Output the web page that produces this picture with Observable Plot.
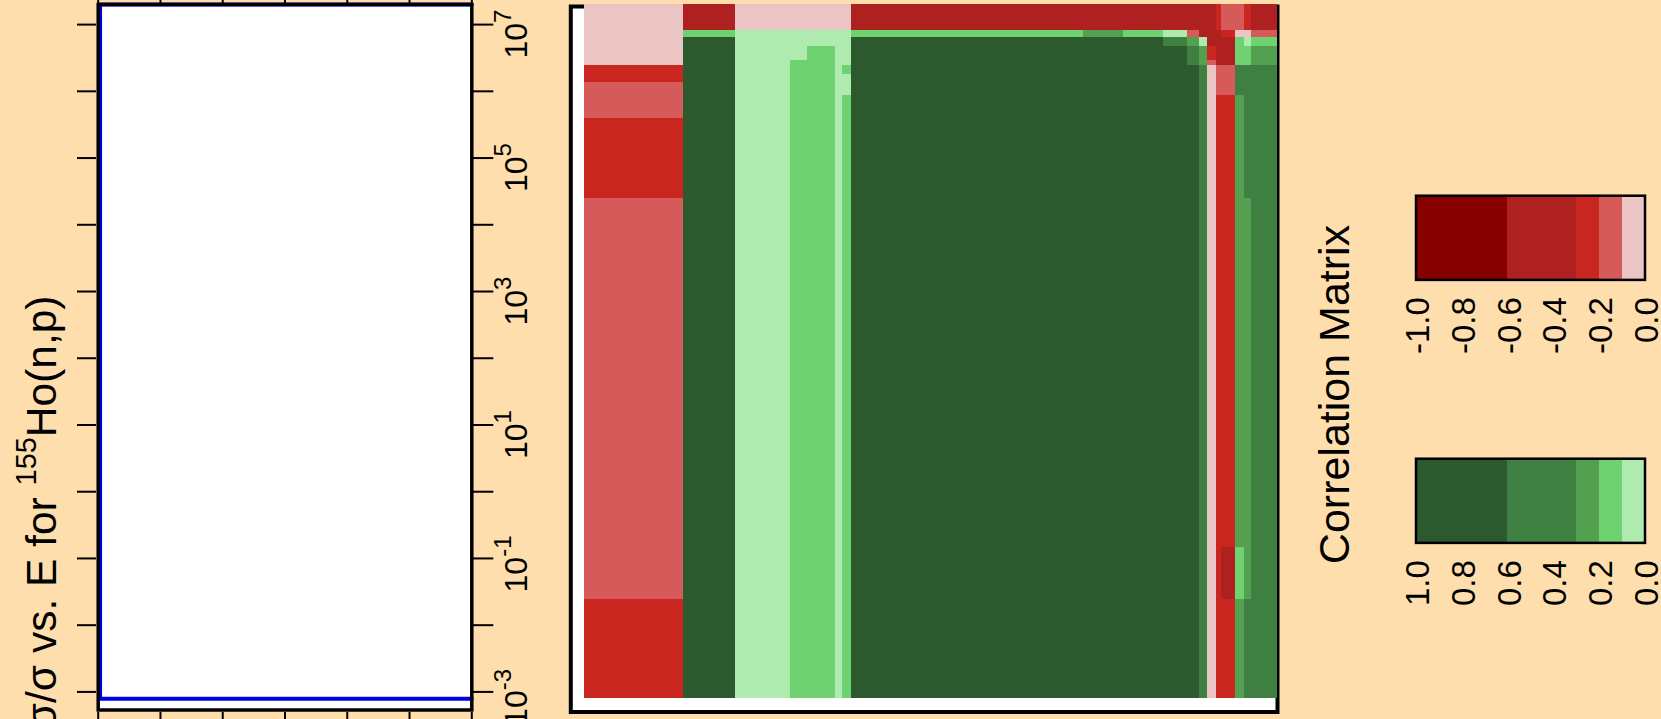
<!DOCTYPE html>
<html>
<head>
<meta charset="utf-8">
<script src="https://cdn.jsdelivr.net/npm/d3@7"></script>
<script src="https://cdn.jsdelivr.net/npm/@observablehq/plot@0.6"></script>
<style>
  html, body { margin: 0; padding: 0; background: #FFDEAD; overflow: hidden; }
  #wrap { position: relative; width: 1661px; height: 719px; overflow: hidden; background: #FFDEAD; }
  #wrap svg { position: absolute; overflow: visible; }
</style>
</head>
<body>
<div id="wrap"></div>
<script>
// ---------------- data ----------------
// energy group boundaries (eV), shared by both axes of the correlation matrix
const energyEdges = [7.9e-4, 0.0245, 0.148, 0.99, 1.78, 4.68, 5.96, 8.04, 2.45e4, 9.8e4,
                     3.9e5, 8.8e5, 1.36e6, 1.8e6, 2.43e6, 2.88e6, 4.68e6, 6.4e6, 8.1e6, 2.0e7];
const energyDomain = [5.0e-4, 2.0e7];

// correlation values, top row (highest energy group) first; columns low -> high energy
const corrRows = [
  [-0.05,-0.45,-0.05,-0.05,-0.05,-0.05,-0.05,-0.45,-0.45,-0.45,-0.45,-0.45,-0.45,-0.45,-0.25,-0.15,-0.15,-0.25,-0.45],
  [-0.05, 0.15, 0.05, 0.05, 0.05, 0.05, 0.05, 0.15, 0.25, 0.15, 0.05,-0.15,-0.45,-0.45,-0.45,-0.25,-0.05,-0.05,-0.15],
  [-0.05, 0.90, 0.05, 0.05, 0.05, 0.05, 0.05, 0.90, 0.90, 0.90, 0.45, 0.25, 0.05,-0.45,-0.45,-0.45, 0.15, 0.05, 0.15],
  [-0.05, 0.90, 0.05, 0.05, 0.15, 0.05, 0.05, 0.90, 0.90, 0.90, 0.90, 0.45, 0.25,-0.25,-0.45,-0.45, 0.15, 0.15, 0.25],
  [-0.05, 0.90, 0.05, 0.15, 0.15, 0.05, 0.05, 0.90, 0.90, 0.90, 0.90, 0.45, 0.25,-0.15,-0.45,-0.45, 0.15, 0.15, 0.25],
  [-0.25, 0.90, 0.05, 0.15, 0.15, 0.05, 0.15, 0.90, 0.90, 0.90, 0.90, 0.90, 0.45,-0.05,-0.15,-0.15, 0.45, 0.45, 0.45],
  [-0.25, 0.90, 0.05, 0.15, 0.15, 0.05, 0.05, 0.90, 0.90, 0.90, 0.90, 0.90, 0.45,-0.05,-0.15,-0.15, 0.45, 0.45, 0.45],
  [-0.15, 0.90, 0.05, 0.15, 0.15, 0.05, 0.05, 0.90, 0.90, 0.90, 0.90, 0.90, 0.45,-0.05,-0.15,-0.15, 0.45, 0.45, 0.45],
  [-0.15, 0.90, 0.05, 0.15, 0.15, 0.05, 0.15, 0.90, 0.90, 0.90, 0.90, 0.90, 0.45,-0.05,-0.25,-0.25, 0.25, 0.45, 0.45],
  [-0.25, 0.90, 0.05, 0.15, 0.15, 0.05, 0.15, 0.90, 0.90, 0.90, 0.90, 0.90, 0.45,-0.05,-0.25,-0.25, 0.25, 0.45, 0.45],
  [-0.25, 0.90, 0.05, 0.15, 0.15, 0.05, 0.15, 0.90, 0.90, 0.90, 0.90, 0.90, 0.45,-0.05,-0.25,-0.25, 0.25, 0.45, 0.45],
  [-0.15, 0.90, 0.05, 0.15, 0.15, 0.05, 0.15, 0.90, 0.90, 0.90, 0.90, 0.90, 0.45,-0.05,-0.25,-0.25, 0.25, 0.25, 0.45],
  [-0.15, 0.90, 0.05, 0.15, 0.15, 0.05, 0.15, 0.90, 0.90, 0.90, 0.90, 0.90, 0.45,-0.05,-0.25,-0.25, 0.25, 0.25, 0.45],
  [-0.15, 0.90, 0.05, 0.15, 0.15, 0.05, 0.15, 0.90, 0.90, 0.90, 0.90, 0.90, 0.45,-0.05,-0.25,-0.25, 0.25, 0.25, 0.45],
  [-0.15, 0.90, 0.05, 0.15, 0.15, 0.05, 0.15, 0.90, 0.90, 0.90, 0.90, 0.90, 0.45,-0.05,-0.25,-0.25, 0.25, 0.25, 0.45],
  [-0.15, 0.90, 0.05, 0.15, 0.15, 0.05, 0.15, 0.90, 0.90, 0.90, 0.90, 0.90, 0.45,-0.05,-0.25,-0.25, 0.25, 0.25, 0.45],
  [-0.15, 0.90, 0.05, 0.15, 0.15, 0.05, 0.15, 0.90, 0.90, 0.90, 0.90, 0.90, 0.45,-0.05,-0.25,-0.25, 0.25, 0.25, 0.45],
  [-0.15, 0.90, 0.05, 0.15, 0.15, 0.05, 0.15, 0.90, 0.90, 0.90, 0.90, 0.90, 0.45,-0.05,-0.25,-0.45, 0.15, 0.25, 0.45],
  [-0.25, 0.90, 0.05, 0.15, 0.15, 0.05, 0.15, 0.90, 0.90, 0.90, 0.90, 0.90, 0.45,-0.05,-0.25,-0.25, 0.25, 0.45, 0.45]
];

// colour levels
const levelBreaks = [-0.6, -0.3, -0.2, -0.1, 0, 0.1, 0.2, 0.3, 0.6];
const levelColors = ["#870000", "#AF2020", "#C8261F", "#D65A5A", "#EBC4C4",
                     "#AFEBAF", "#6ED270", "#52A050", "#3F7F42", "#2C5A2E"];

// left panel (relative uncertainty vs energy)
const decadeTicks = [1e-3, 1e-2, 1e-1, 1e0, 1e1, 1e2, 1e3, 1e4, 1e5, 1e6, 1e7];
const labelExponents = [-3, -1, 1, 3, 5, 7];
const uncXTicks = [0, 1, 2, 3, 4, 5, 6];
const uncEnergy = [7.9e-4, 7.9e-4, 2.0e7, 2.0e7];
const uncRel = [6, 0.03, 0.03, 6];
const titleText = "Δσ/σ vs. E for ^{155}Ho(n,p)";

// legend
const legendTitle = "Correlation Matrix";
const negLegendEdges = [-1, -0.6, -0.3, -0.2, -0.1, 0];
const posLegendEdges = [1, 0.6, 0.3, 0.2, 0.1, 0];
const negTickValues = [-1, -0.8, -0.6, -0.4, -0.2, 0];
const negTickLabels = ["-1.0", "-0.8", "-0.6", "-0.4", "-0.2", "0.0"];
const posTickValues = [1, 0.8, 0.6, 0.4, 0.2, 0];
const posTickLabels = ["1.0", "0.8", "0.6", "0.4", "0.2", "0.0"];

// ---------------- drawing ----------------
const wrap = document.getElementById("wrap");
const fontFam = "'Liberation Sans', Arial, Helvetica, sans-serif";
const colorScale = {type: "threshold", domain: levelBreaks, range: levelColors};
const baseStyle = {background: "transparent", overflow: "visible", fontFamily: fontFam, color: "black"};

function place(svg, left, top) {
  svg.style.left = left + "px";
  svg.style.top = top + "px";
  wrap.appendChild(svg);
  // superscripts written as a^{b}c
  const ns = "http://www.w3.org/2000/svg";
  svg.querySelectorAll("text").forEach(t => {
    const m = t.textContent.match(/^(.*?)\^\{(.*?)\}(.*)$/);
    if (!m) return;
    const fs = parseFloat(getComputedStyle(t).fontSize);
    const big = fs > 40;
    const shift = fs * (big ? 0.47 : 0.5);
    const size = fs * (big ? 0.68 : 0.75);
    t.textContent = "";
    const a = document.createElementNS(ns, "tspan"); a.textContent = m[1];
    const b = document.createElementNS(ns, "tspan"); b.textContent = m[2];
    b.setAttribute("font-size", size.toFixed(1));
    b.setAttribute("dy", (-shift).toFixed(1));
    t.append(a, b);
    if (m[3]) {
      const c = document.createElementNS(ns, "tspan"); c.textContent = m[3];
      c.setAttribute("dy", shift.toFixed(1));
      t.append(c);
    }
  });
}

// ---- left panel ----
{
  const W = 560, Hh = 719, x0 = 97.7, x1 = 471.3, y0 = 4, y1 = 711.5;
  const ppu = (x1 - x0) / 6;           // pixels per x unit
  const ppd = (y1 - y0) / Math.log10(energyDomain[1] / energyDomain[0]); // px per decade
  const svg = Plot.plot({
    width: W, height: Hh,
    marginLeft: x0, marginRight: W - x1, marginTop: y0, marginBottom: Hh - y1,
    x: {domain: [0, 6], axis: null},
    y: {type: "log", domain: energyDomain, axis: null},
    style: baseStyle,
    marks: [
      Plot.frame({fill: "white", insetBottom: 2}),
      Plot.line(d3.range(uncEnergy.length), {x: i => uncRel[i], y: i => uncEnergy[i], stroke: "#0000E6", strokeWidth: 4}),
      Plot.frame({stroke: "black", strokeWidth: 3.5, insetBottom: 2}),
      Plot.ruleY(decadeTicks, {y: d => d, x1: -20.7 / ppu, x2: -1.7 / ppu, stroke: "black", strokeWidth: 2}),
      Plot.ruleY(decadeTicks, {y: d => d, x1: 6 + 1.7 / ppu, x2: 6 + 22 / ppu, stroke: "black", strokeWidth: 2}),
      Plot.ruleX(uncXTicks, {x: d => d, y1: energyDomain[1] * 10 ** (1 / ppd), y2: energyDomain[1] * 10 ** (30 / ppd), stroke: "black", strokeWidth: 2}),
      Plot.ruleX(uncXTicks, {x: d => d, y1: energyDomain[0] / 10 ** (0.5 / ppd), y2: energyDomain[0] / 10 ** (30 / ppd), stroke: "black", strokeWidth: 2}),
      Plot.text(labelExponents, {y: d => 10 ** d, text: d => `10^{${d}}`, frameAnchor: "right", dx: 55.5, dy: 34,
        rotate: -90, fontSize: 32, textAnchor: "start", lineAnchor: "bottom"}),
      Plot.text([titleText], {frameAnchor: "left", dx: 56 - 97.7, dy: 295 - 357.75, rotate: -90, fontSize: 42.5,
        textAnchor: "end", lineAnchor: "bottom"})
    ]
  });
  place(svg, 0, 0);
}

// ---- correlation matrix ----
{
  const cells = [];
  corrRows.forEach((row, k) => {
    const r = corrRows.length - 1 - k;
    row.forEach((v, c) => {
      cells.push({x1: energyEdges[c], x2: energyEdges[c + 1], y1: energyEdges[r], y2: energyEdges[r + 1], v});
    });
  });
  const left = 500, W = 800, Hh = 719, x0 = 570.3, x1 = 1277, y0 = 4, y1 = 711.5;
  const svg = Plot.plot({
    width: W, height: Hh,
    marginLeft: x0 - left, marginRight: W - (x1 - left), marginTop: y0, marginBottom: Hh - y1,
    x: {type: "log", domain: energyDomain, axis: null},
    y: {type: "log", domain: energyDomain, axis: null},
    color: colorScale,
    style: baseStyle,
    marks: [
      Plot.frame({fill: "white", stroke: "black", strokeWidth: 4, insetTop: 2}),
      Plot.rect(cells, {x1: "x1", x2: "x2", y1: "y1", y2: "y2", fill: "v", shapeRendering: "crispEdges"})
    ]
  });
  place(svg, left, 0);
}

// ---- legend bars ----
function legendBar(edges, tickValues, tickLabels, top, withTitle) {
  const left = 1380, W = 281, Hh = 200, bx0 = 1415.5, bx1 = 1644.5, by0 = top, by1 = top + 84.2;
  const svgTop = by0 - 15.2;
  const cells = d3.range(edges.length - 1).map(i => ({x1: edges[i], x2: edges[i + 1], v: (edges[i] + edges[i + 1]) / 2}));
  const marks = [
    Plot.rect(cells, {x1: "x1", x2: "x2", y1: 0, y2: 1, fill: "v", shapeRendering: "crispEdges"}),
    Plot.frame({stroke: "black", strokeWidth: 2.5}),
    Plot.text(d3.range(tickValues.length), {x: i => tickValues[i], text: i => tickLabels[i], frameAnchor: "bottom",
      dx: 13, dy: 17.3, rotate: -90, textAnchor: "end", lineAnchor: "bottom", fontSize: 33})
  ];
  if (withTitle) {
    marks.push(Plot.text([legendTitle], {frameAnchor: "top-left", dx: 1348 - bx0, dy: 394 - by0,
      rotate: -90, fontSize: 43, textAnchor: "middle", lineAnchor: "bottom"}));
  }
  const svg = Plot.plot({
    width: W, height: Hh,
    marginLeft: bx0 - left, marginRight: W - (bx1 - left), marginTop: by0 - svgTop, marginBottom: Hh - (by1 - svgTop),
    x: {domain: [edges[0], edges[edges.length - 1]], axis: null},
    y: {domain: [0, 1], axis: null},
    color: colorScale,
    style: baseStyle,
    marks
  });
  place(svg, left, svgTop);
}
legendBar(negLegendEdges, negTickValues, negTickLabels, 195.2, true);
legendBar(posLegendEdges, posTickValues, posTickLabels, 458.4, false);
</script>
</body>
</html>
